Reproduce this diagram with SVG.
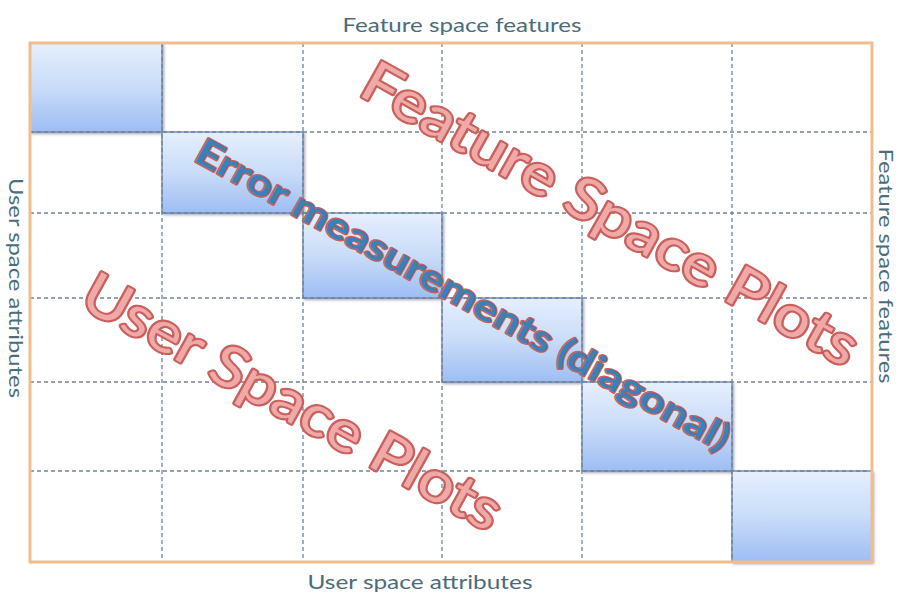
<svg xmlns="http://www.w3.org/2000/svg" width="899" height="596" viewBox="0 0 899 596">
  <defs>
    <linearGradient id="cellFill" x1="0" y1="0" x2="0" y2="1">
      <stop offset="0" stop-color="#e6effd"/>
      <stop offset="0.5" stop-color="#c9dcf9"/>
      <stop offset="1" stop-color="#9dbdf3"/>
    </linearGradient>
    <filter id="cellShadow" x="-5%" y="-5%" width="115%" height="120%">
      <feDropShadow dx="1.5" dy="1.5" stdDeviation="1" flood-color="#44506a" flood-opacity="0.45"/>
    </filter>
  </defs>
  <style>
    .cell { fill: url(#cellFill); stroke: #6f89ae; stroke-width: 1.4; filter: url(#cellShadow); }
    .grid line { stroke: #6f8499; stroke-width: 1.3; stroke-dasharray: 4 3; }
    .frame { fill: none; stroke: #f1bd8c; stroke-width: 3; }
    .axis { font-family: Lato, "Open Sans", "Liberation Sans", sans-serif; font-size: 19px; fill: #4b6c78; }
    .big { font-family: Lato, "Open Sans", "Liberation Sans", sans-serif; font-size: 57px; fill: #efa9a7; stroke: #c9605d; stroke-width: 4.2; stroke-linejoin: round; paint-order: stroke; }
    .err { font-family: Lato, "Open Sans", "Liberation Sans", sans-serif; font-size: 37px; font-weight: bold; fill: #3b80b6; stroke: #c4605b; stroke-width: 2.6; stroke-linejoin: round; paint-order: stroke; }
  </style>

  <rect width="899" height="596" fill="#ffffff"/>

  <!-- diagonal cells of the matrix -->
  <g id="cells">
    <g id="cell-1"><rect class="cell" x="30" y="43" width="132" height="89"/></g>
    <g id="cell-2"><rect class="cell" x="162" y="132" width="141" height="81"/></g>
    <g id="cell-3"><rect class="cell" x="303" y="213" width="139" height="85"/></g>
    <g id="cell-4"><rect class="cell" x="442" y="298" width="140" height="84"/></g>
    <g id="cell-5"><rect class="cell" x="582" y="382" width="150" height="89"/></g>
    <g id="cell-6"><rect class="cell" x="732" y="471" width="140" height="91"/></g>
  </g>

  <!-- dashed grid dividers -->
  <g id="connectors" class="grid">
    <line x1="162" y1="43" x2="162" y2="562"/>
    <line x1="303" y1="43" x2="303" y2="562"/>
    <line x1="442" y1="43" x2="442" y2="562"/>
    <line x1="582" y1="43" x2="582" y2="562"/>
    <line x1="732" y1="43" x2="732" y2="562"/>
    <line x1="30" y1="132" x2="872" y2="132"/>
    <line x1="30" y1="213" x2="872" y2="213"/>
    <line x1="30" y1="298" x2="872" y2="298"/>
    <line x1="30" y1="382" x2="872" y2="382"/>
    <line x1="30" y1="471" x2="872" y2="471"/>
  </g>

  <!-- outer frame -->
  <g id="frame">
    <rect class="frame" x="30" y="43" width="842" height="519"/>
  </g>

  <!-- axis captions -->
  <g id="axis-top"><text class="axis" x="462" y="32" text-anchor="middle" textLength="239" lengthAdjust="spacingAndGlyphs">Feature space features</text></g>
  <g id="axis-bottom"><text class="axis" x="420" y="589" text-anchor="middle" textLength="225" lengthAdjust="spacingAndGlyphs">User space attributes</text></g>
  <g id="axis-left"><text class="axis" text-anchor="middle" transform="translate(9,288) rotate(90)" textLength="220" lengthAdjust="spacingAndGlyphs">User space attributes</text></g>
  <g id="axis-right"><text class="axis" text-anchor="middle" transform="translate(879,266) rotate(90)" textLength="235" lengthAdjust="spacingAndGlyphs">Feature space features</text></g>

  <!-- region labels -->
  <g id="label-feature-plots"><text class="big" text-anchor="middle" transform="translate(601,231) rotate(29.3)" textLength="560" lengthAdjust="spacingAndGlyphs">Feature Space Plots</text></g>
  <g id="label-user-plots"><text class="big" text-anchor="middle" transform="translate(283,419) rotate(28.9)" textLength="470" lengthAdjust="spacingAndGlyphs">User Space Plots</text></g>
  <g id="label-error"><text class="err" text-anchor="middle" transform="translate(457,306) rotate(28.9)" textLength="604" lengthAdjust="spacingAndGlyphs">Error measurements (diagonal)</text></g>
</svg>
